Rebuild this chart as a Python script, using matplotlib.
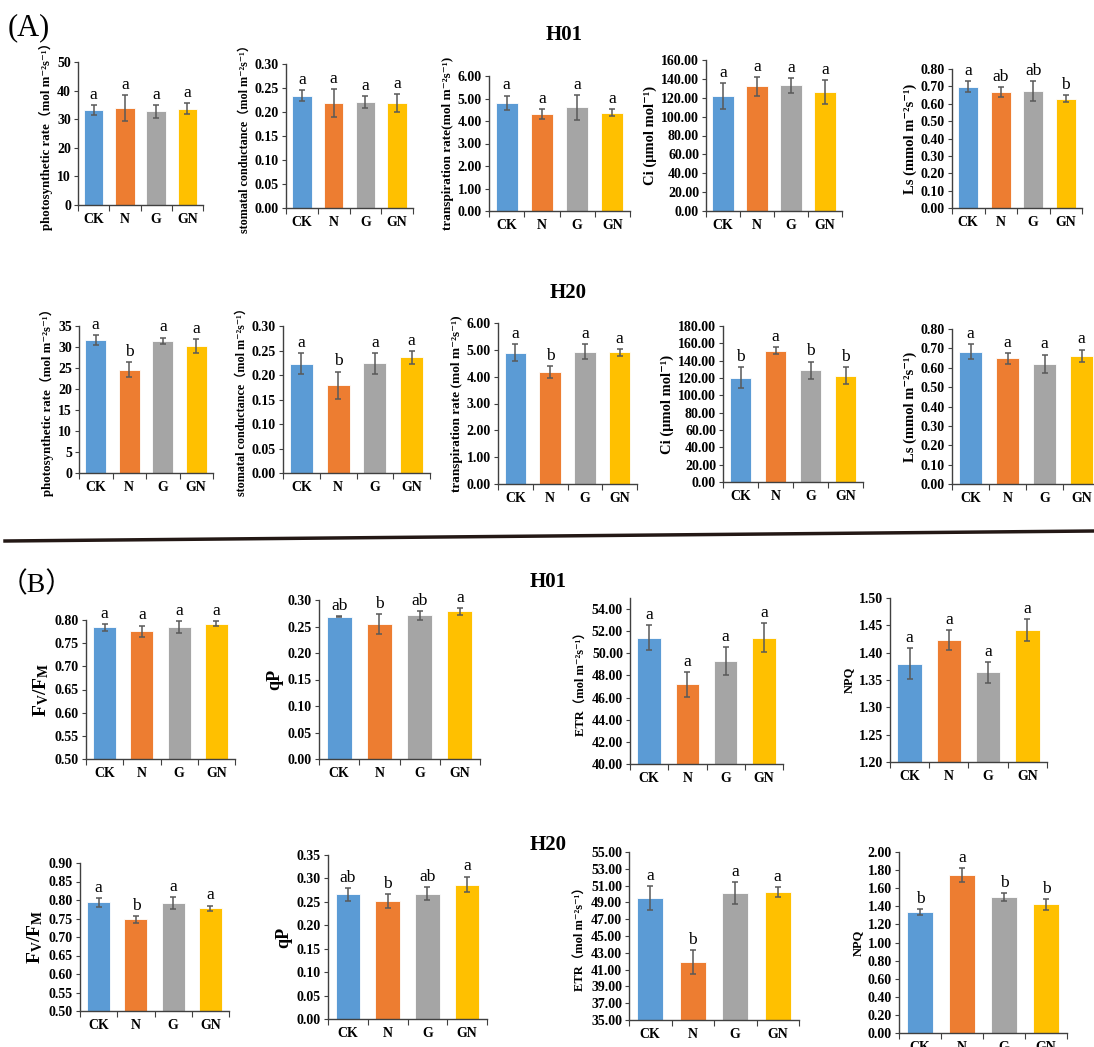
import numpy as np
import matplotlib
matplotlib.use('Agg')
import matplotlib.pyplot as plt
from matplotlib.lines import Line2D

plt.rcParams['font.family'] = ['Liberation Serif', 'DejaVu Serif', 'Noto Sans CJK SC']
plt.rcParams['font.weight'] = 'bold'
plt.rcParams['mathtext.fontset'] = 'custom'
plt.rcParams['mathtext.rm'] = 'Liberation Serif:bold'
plt.rcParams['mathtext.it'] = 'Liberation Serif:bold'
plt.rcParams['mathtext.bf'] = 'Liberation Serif:bold'

groups = ['CK', 'N', 'G', 'GN']
colors = ['#5B9BD5', '#ED7D31', '#A5A5A5', '#FFC000']

# ---- (A) gas exchange, H01 ----
pn_h01 = [33.2, 33.8, 32.7, 33.6]
pn_h01_err = [1.6, 4.6, 2.3, 1.9]
pn_h01_sig = ['a', 'a', 'a', 'a']
gs_h01 = [0.234, 0.218, 0.221, 0.219]
gs_h01_err = [0.012, 0.029, 0.013, 0.018]
gs_h01_sig = ['a', 'a', 'a', 'a']
tr_h01 = [4.80, 4.33, 4.61, 4.37]
tr_h01_err = [0.33, 0.22, 0.55, 0.16]
tr_h01_sig = ['a', 'a', 'a', 'a']
ci_h01 = [122.0, 132.3, 133.0, 126.5]
ci_h01_err = [13.4, 10.1, 8.3, 12.7]
ci_h01_sig = ['a', 'a', 'a', 'a']
ls_h01 = [0.699, 0.666, 0.674, 0.630]
ls_h01_err = [0.033, 0.029, 0.056, 0.022]
ls_h01_sig = ['a', 'ab', 'ab', 'b']

# ---- (A) gas exchange, H20 ----
pn_h20 = [31.7, 24.6, 31.5, 30.3]
pn_h20_err = [1.2, 1.75, 0.75, 1.7]
pn_h20_sig = ['a', 'b', 'a', 'a']
gs_h20 = [0.223, 0.179, 0.224, 0.236]
gs_h20_err = [0.021, 0.028, 0.021, 0.013]
gs_h20_sig = ['a', 'b', 'a', 'a']
tr_h20 = [4.90, 4.17, 4.92, 4.91]
tr_h20_err = [0.30, 0.22, 0.28, 0.13]
tr_h20_sig = ['a', 'b', 'a', 'a']
ci_h20 = [120.3, 151.5, 129.0, 122.8]
ci_h20_err = [12.0, 4.0, 10.0, 10.0]
ci_h20_sig = ['b', 'a', 'b', 'b']
ls_h20 = [0.683, 0.649, 0.621, 0.661]
ls_h20_err = [0.038, 0.028, 0.047, 0.033]
ls_h20_sig = ['a', 'a', 'a', 'a']

# ---- (B) chlorophyll fluorescence, H01 ----
fvfm_h01 = [0.784, 0.776, 0.785, 0.792]
fvfm_h01_err = [0.008, 0.012, 0.013, 0.005]
fvfm_h01_sig = ['a', 'a', 'a', 'a']
qp_h01 = [0.268, 0.254, 0.271, 0.279]
qp_h01_err = [0.001, 0.019, 0.0085, 0.0065]
qp_h01_sig = ['ab', 'b', 'ab', 'a']
etr_h01 = [51.4, 47.2, 49.3, 51.4]
etr_h01_err = [1.14, 1.15, 1.3, 1.3]
etr_h01_sig = ['a', 'a', 'a', 'a']
npq_h01 = [1.380, 1.423, 1.364, 1.442]
npq_h01_err = [0.029, 0.019, 0.019, 0.020]
npq_h01_sig = ['a', 'a', 'a', 'a']

# ---- (B) chlorophyll fluorescence, H20 ----
fvfm_h20 = [0.794, 0.748, 0.792, 0.778]
fvfm_h20_err = [0.012, 0.009, 0.017, 0.007]
fvfm_h20_sig = ['a', 'b', 'a', 'a']
qp_h20 = [0.266, 0.252, 0.267, 0.287]
qp_h20_err = [0.0135, 0.015, 0.014, 0.017]
qp_h20_sig = ['ab', 'b', 'ab', 'a']
etr_h20 = [49.5, 41.9, 50.1, 50.2]
etr_h20_err = [1.4, 1.45, 1.3, 0.6]
etr_h20_sig = ['a', 'b', 'a', 'a']
npq_h20 = [1.338, 1.741, 1.501, 1.423]
npq_h20_err = [0.033, 0.078, 0.044, 0.059]
npq_h20_sig = ['b', 'a', 'b', 'b']

pn_label = 'photosynthetic rate（mol m⁻²s⁻¹）'
gs_label = 'stomatal conductance（mol m⁻²s⁻¹）'
ci_label = 'Ci (μmol mol⁻¹)'
ls_label = 'Ls (mmol m⁻²s⁻¹)'
etr_label = 'ETR（mol m⁻²s⁻¹）'
fvfm_label = r'$\mathbf{F_V/F_M}$'

W, H = 1094, 1047
fig = plt.figure(figsize=(W / 100, H / 100), dpi=100)


def add_ax(x0, y0, x1, y1):
    # pixel box -> figure fraction
    return fig.add_axes([x0 / W, 1 - y1 / H, (x1 - x0) / W, (y1 - y0) / H])


def draw(box, vals, errs, sig, ylim, step, fmt, ylabel, lsize=9, tsize=10):
    ax = add_ax(*box)
    x = np.arange(len(groups))
    ax.bar(x, vals, width=0.62, color=colors, edgecolor='white', linewidth=0.6, zorder=2)
    ax.errorbar(x, vals, yerr=errs, fmt='none', ecolor='#595959', elinewidth=1.1,
                capsize=2.5, capthick=1.1, zorder=3)
    for xi, v, e, s in zip(x, vals, errs, sig):
        ax.annotate(s, (xi, v + e), xytext=(0, 1.5), textcoords='offset points',
                    ha='center', va='bottom', fontsize=12.5, fontweight='normal')
    ax.set_xlim(-0.5, 3.5)
    ax.set_ylim(*ylim)
    ax.set_yticks(np.arange(ylim[0], ylim[1] + step / 2, step))
    ax.set_yticklabels([fmt % t for t in ax.get_yticks()])
    ax.set_xticks(x)
    ax.set_xticklabels(groups)
    ax.set_xticks(np.arange(-0.5, 4, 1), minor=True)
    ax.tick_params(axis='x', which='major', length=0, pad=6, labelsize=tsize)
    ax.tick_params(axis='x', which='minor', length=4, width=0.8, color='#404040')
    ax.tick_params(axis='y', length=3, width=0.8, color='#404040', labelsize=tsize, pad=2)
    for sp in ['top', 'right']:
        ax.spines[sp].set_visible(False)
    for sp in ['left', 'bottom']:
        ax.spines[sp].set_color('#404040')
        ax.spines[sp].set_linewidth(1.0)
    ax.set_ylabel(ylabel, fontsize=lsize, fontweight='bold', labelpad=3)
    return ax


# (A) row H01
draw((78, 62, 203, 205), pn_h01, pn_h01_err, pn_h01_sig, (0, 50), 10, '%d', pn_label, 9.3)
draw((286, 64, 413, 208), gs_h01, gs_h01_err, gs_h01_sig, (0, 0.30), 0.05, '%.2f', gs_label, 8.7)
draw((489, 76, 630, 211), tr_h01, tr_h01_err, tr_h01_sig, (0, 6), 1, '%.2f',
     'transpiration rate(mol m⁻²s⁻¹)', 9.5)
draw((706, 60, 842, 211), ci_h01, ci_h01_err, ci_h01_sig, (0, 160), 20, '%.2f', ci_label, 10.5)
draw((952, 69, 1082, 208), ls_h01, ls_h01_err, ls_h01_sig, (0, 0.8), 0.1, '%.2f', ls_label, 10.5)

# (A) row H20
draw((79, 326, 213, 473), pn_h20, pn_h20_err, pn_h20_sig, (0, 35), 5, '%d', pn_label, 9.3)
draw((283, 326, 430, 473), gs_h20, gs_h20_err, gs_h20_sig, (0, 0.30), 0.05, '%.2f', gs_label, 8.7)
draw((498, 323, 637, 484), tr_h20, tr_h20_err, tr_h20_sig, (0, 6), 1, '%.2f',
     'transpiration rate (mol m⁻²s⁻¹)', 9.5)
draw((723, 326, 863, 482), ci_h20, ci_h20_err, ci_h20_sig, (0, 180), 20, '%.2f', ci_label, 10.5)
draw((952, 329, 1100, 484), ls_h20, ls_h20_err, ls_h20_sig, (0, 0.8), 0.1, '%.2f', ls_label, 10.5)

# (B) row H01
draw((86, 620, 235, 759), fvfm_h01, fvfm_h01_err, fvfm_h01_sig, (0.5, 0.8), 0.05, '%.2f', fvfm_label, 14)
draw((319, 600, 480, 759), qp_h01, qp_h01_err, qp_h01_sig, (0, 0.30), 0.05, '%.2f', 'qP', 13)
draw((630, 598, 783, 764), etr_h01, etr_h01_err, etr_h01_sig, (40, 55), 2, '%.2f', etr_label, 9)
draw((890, 598, 1047, 762), npq_h01, npq_h01_err, npq_h01_sig, (1.2, 1.5), 0.05, '%.2f', 'NPQ', 9)

# (B) row H20
draw((80, 863, 229, 1011), fvfm_h20, fvfm_h20_err, fvfm_h20_sig, (0.5, 0.9), 0.05, '%.2f', fvfm_label, 14)
draw((328, 855, 487, 1019), qp_h20, qp_h20_err, qp_h20_sig, (0, 0.35), 0.05, '%.2f', 'qP', 13)
draw((629, 852, 799, 1020), etr_h20, etr_h20_err, etr_h20_sig, (35, 55), 2, '%.2f', etr_label, 9)
draw((899, 852, 1067, 1033), npq_h20, npq_h20_err, npq_h20_sig, (0, 2.0), 0.2, '%.2f', 'NPQ', 9)

# panel letters and titles
fig.text(8 / W, 1 - 28 / H, '(A)', fontsize=22, fontweight='normal', va='center', ha='left')
fig.text(37 / W, 1 - 585 / H, '（B）', fontsize=20, fontweight='normal', va='center', ha='center')
fig.text(564 / W, 1 - 35 / H, 'H01', fontsize=15, va='center', ha='center')
fig.text(568 / W, 1 - 293 / H, 'H20', fontsize=15, va='center', ha='center')
fig.text(548 / W, 1 - 582 / H, 'H01', fontsize=15, va='center', ha='center')
fig.text(548 / W, 1 - 845 / H, 'H20', fontsize=15, va='center', ha='center')

# separator between (A) and (B)
fig.add_artist(Line2D([5 / W, 1.0], [1 - 541 / H, 1 - 531 / H], color='#231815', lw=2.5))

fig.savefig('out.png', dpi=100)
